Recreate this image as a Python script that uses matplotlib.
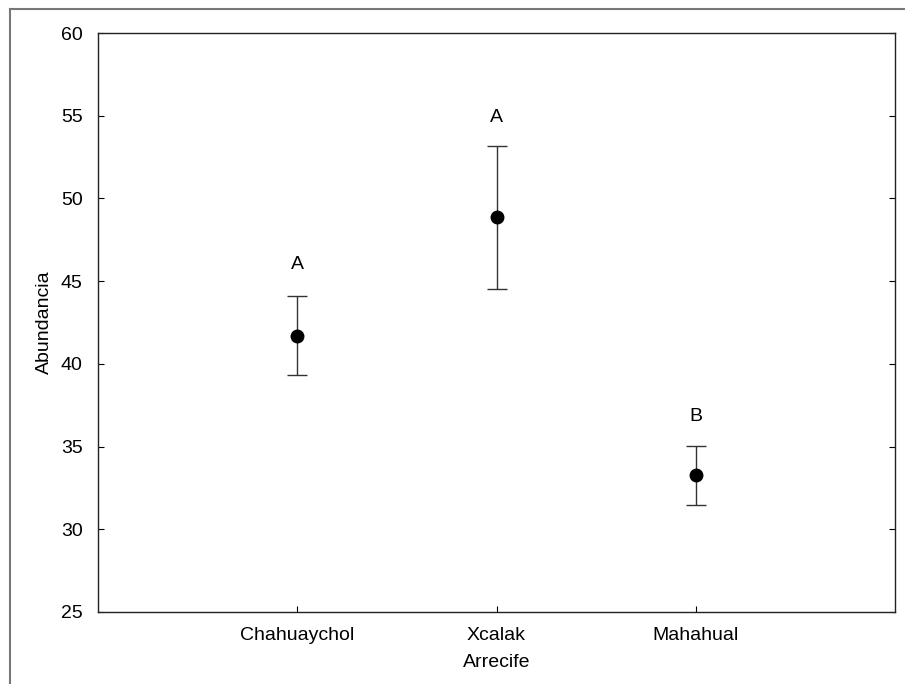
import matplotlib
matplotlib.use("Agg")
import matplotlib.pyplot as plt
from matplotlib.lines import Line2D

# Data
reefs = ["Chahuaychol", "Xcalak", "Mahahual"]
means = [41.7, 48.85, 33.27]
errors = [2.4, 4.33, 1.78]
groups = ["A", "A", "B"]
group_y = [46.0, 54.9, 36.8]

plt.rcParams["font.family"] = ["Liberation Sans", "DejaVu Sans"]

fig = plt.figure(figsize=(9.05, 6.84), dpi=100)
ax = fig.add_axes([98 / 905, 1 - 612 / 684, 797 / 905, 579 / 684])

x = list(range(1, len(reefs) + 1))
ax.errorbar(x, means, yerr=errors, fmt="o", color="black", ecolor="#333333",
            elinewidth=1, capsize=7, capthick=1, markersize=9)
for xi, g, gy in zip(x, groups, group_y):
    ax.text(xi, gy, g, ha="center", va="center", fontsize=14)

ax.set_xlim(0, 4)
ax.set_ylim(25, 60)
ax.set_xticks(x)
ax.set_xticklabels(reefs)
ax.set_yticks(range(25, 61, 5))
ax.tick_params(direction="in", length=4, labelsize=14, right=True, top=False,
               pad=11)
ax.set_xlabel("Arrecife", fontsize=14, labelpad=7)
ax.set_ylabel("Abundancia", fontsize=14, labelpad=6)
for s in ax.spines.values():
    s.set_linewidth(1)
    s.set_color("#222222")

# outer frame lines (left and top)
fig.add_artist(Line2D([10 / 905, 10 / 905], [0, 1 - 9 / 684], transform=fig.transFigure,
                      color="#777777", lw=1.5))
fig.add_artist(Line2D([10 / 905, 1], [1 - 9 / 684, 1 - 9 / 684], transform=fig.transFigure,
                      color="#777777", lw=1.5))

fig.savefig("out.png", dpi=100)
